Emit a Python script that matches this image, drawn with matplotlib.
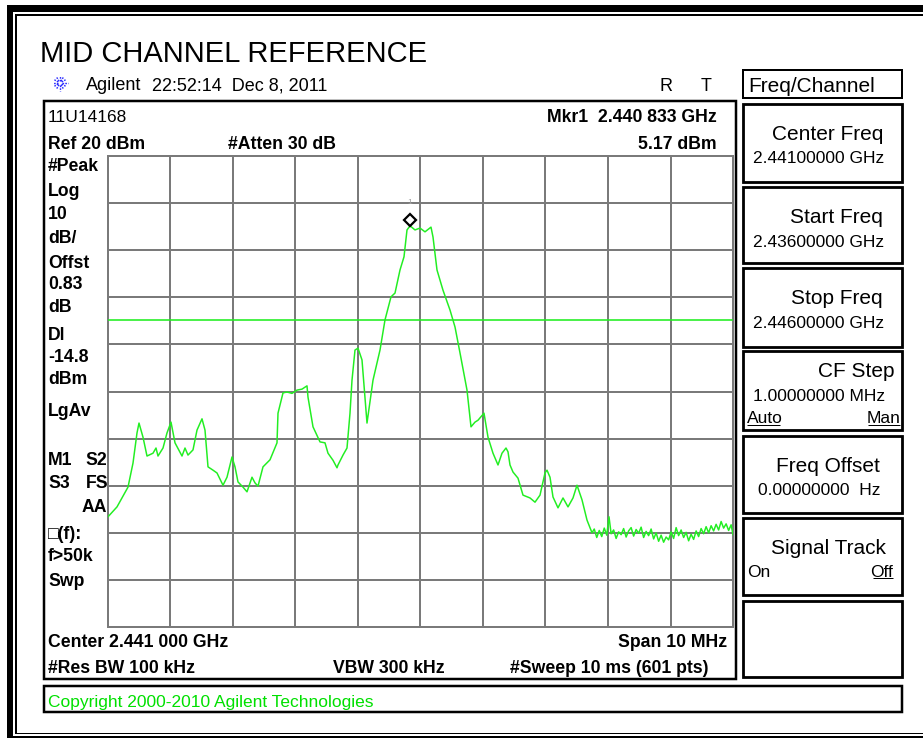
import numpy as np
import matplotlib
matplotlib.use("Agg")
import matplotlib.pyplot as plt
from matplotlib.patches import Rectangle
import matplotlib.transforms as mtransforms

plt.rcParams['font.family'] = ['Liberation Sans', 'DejaVu Sans']

# ---------------- data ----------------
start_ghz = 2.436
stop_ghz = 2.446
ref_level = 20.0
db_per_div = 10.0
display_line = -14.8
marker_freq_mhz = 4.833   # offset from start -> 2.440 833 GHz
marker_level = 5.17

# trace: frequency offset from start (MHz) and level (dBm)
sig_f = [0.0, 0.144, 0.32, 0.40, 0.464, 0.496, 0.56, 0.624, 0.72, 0.768, 0.80, 0.88,
         0.944, 1.008, 1.072, 1.184, 1.232, 1.28, 1.36, 1.424, 1.504, 1.552, 1.60,
         1.68, 1.744, 1.84, 1.904, 1.984, 2.032, 2.08, 2.16, 2.224, 2.304, 2.352,
         2.40, 2.48, 2.592, 2.704, 2.72, 2.80, 2.864, 2.944, 3.024, 3.104, 3.184,
         3.20, 3.28, 3.392, 3.472, 3.52, 3.60, 3.664, 3.68, 3.76, 3.824, 3.872,
         3.904, 3.952, 4.0, 4.064, 4.144, 4.24, 4.352, 4.432, 4.528, 4.592, 4.672,
         4.736, 4.784, 4.833, 4.912, 4.992, 5.072, 5.168, 5.20, 5.264, 5.36, 5.472,
         5.552, 5.632, 5.744, 5.808, 5.872, 5.92, 6.016, 6.08, 6.16, 6.24, 6.304,
         6.368, 6.40, 6.432, 6.48, 6.56, 6.64, 6.752, 6.832, 6.912, 6.992, 7.024,
         7.072, 7.12, 7.2, 7.28, 7.36, 7.44, 7.504, 7.584, 7.664, 7.744]
sig_db = [-56.6, -54.5, -50.3, -45.2, -38.8, -36.7, -39.7, -43.7, -43.1, -42.0, -43.7,
          -42.0, -38.8, -36.5, -40.9, -43.7, -42.0, -43.5, -42.4, -38.2, -35.8, -38.2,
          -46.0, -46.7, -47.3, -49.9, -48.2, -43.9, -46.0, -49.2, -50.3, -51.3, -48.2,
          -49.4, -50.1, -46.0, -44.5, -40.9, -34.6, -30.3, -30.1, -30.4, -29.7, -29.5,
          -28.8, -31.2, -37.5, -40.7, -40.9, -43.1, -44.6, -46.2, -45.6, -43.5, -42.0,
          -34.6, -27.6, -21.2, -20.8, -23.3, -36.7, -27.6, -21.2, -14.8, -9.9, -9.1,
          -4.2, -1.4, 4.3, 5.17, 4.3, 4.7, 3.9, 4.9, 2.8, -4.2, -8.5, -12.7, -16.3,
          -21.8, -29.7, -37.5, -36.5, -36.1, -34.6, -39.7, -43.1, -45.6, -43.1, -42.0,
          -42.8, -45.6, -47.1, -48.4, -52.0, -52.6, -53.5, -52.0, -47.3, -46.7, -48.2,
          -52.4, -54.7, -52.6, -54.5, -52.6, -49.9, -53.0, -57.3, -60.0]
floor_f = [7.78, 7.82, 7.86, 7.90, 7.94, 7.98, 8.016, 8.05, 8.09, 8.13, 8.17, 8.21,
           8.25, 8.29, 8.33, 8.37, 8.41, 8.45, 8.49, 8.53, 8.57, 8.61, 8.65, 8.69,
           8.73, 8.77, 8.81, 8.85, 8.89, 8.93, 8.97, 9.01, 9.05, 9.09, 9.13, 9.17,
           9.21, 9.25, 9.29, 9.33, 9.37, 9.41, 9.45, 9.49, 9.53, 9.57, 9.61, 9.65,
           9.69, 9.73, 9.77, 9.81, 9.85, 9.89, 9.93, 9.97, 10.0]
floor_db = [-59.2, -61.0, -59.5, -60.8, -59.0, -60.5, -56.6, -60.2, -59.4, -61.2, -59.8,
            -60.4, -59.1, -60.9, -59.6, -58.9, -60.7, -59.3, -60.1, -58.8, -61.0, -59.7,
            -60.6, -59.2, -61.3, -60.0, -61.8, -60.5, -62.0, -60.9, -61.5, -59.8, -61.2,
            -58.9, -60.6, -59.4, -61.0, -59.9, -61.7, -60.3, -61.4, -59.6, -60.8, -59.1,
            -60.2, -58.7, -60.0, -58.5, -59.6, -58.2, -59.4, -57.6, -59.0, -58.1, -59.5,
            -58.3, -60.4]

trace_f = np.array(sig_f + floor_f)
trace_db = np.array(sig_db + floor_db)
trace_ghz = start_ghz + trace_f / 1000.0

# ---------------- figure ----------------
W, H = 923, 738
fig = plt.figure(figsize=(W / 100, H / 100), dpi=100)
bg = fig.add_axes([0, 0, 1, 1])
bg.set_xlim(0, W)
bg.set_ylim(H, 0)
bg.axis('off')

PX = 0.72  # px -> pt


def line(x0, y0, x1, y1, lw, color='black'):
    bg.plot([x0, x1], [y0, y1], color=color, lw=lw * PX, solid_capstyle='butt')


def bar(x0, y0, x1, y1, color='black'):
    bg.add_patch(Rectangle((x0, y0), x1 - x0, y1 - y0, facecolor=color,
                           edgecolor='none', lw=0))


def box(x0, y0, x1, y1, lw, color='black'):
    bg.add_patch(Rectangle((x0, y0), x1 - x0, y1 - y0, fill=False,
                           edgecolor=color, lw=lw * PX, joinstyle='miter'))


# outer frame
bar(7, 5, 13, H)          # thick left
bar(7, 5, W, 12)          # thick top
bar(7, 735.5, W, H)       # thick bottom
bar(14.5, 14, 16.5, 734)  # thin left
bar(14.5, 14, W, 16)      # thin top
bar(14.5, 732.5, W, 734)  # thin bottom

# display box
box(43.5, 100.5, 736, 679, 2.5)
# softkey panel
box(743, 70, 902, 98, 2)
for (a, b) in [(104, 182), (187, 263), (268, 347), (351, 430), (436, 513), (518, 595), (601, 677)]:
    box(743, a, 902, b, 2.8)
# copyright box
box(44, 686, 902, 712, 2.5)


def txt(x, yc, s, size, ha='left', bold=False, color='black'):
    # yc = visual centre of capitals in pixels
    cap = size / PX * 0.716
    bg.text(x, yc + cap / 2, s, fontsize=size, ha=ha, va='baseline',
            fontweight='bold' if bold else 'normal', color=color)


# title and header
txt(40, 52, "MID CHANNEL REFERENCE", 21)
txt(86, 84, "Agilent", 13)
txt(152, 84, "22:52:14  Dec 8, 2011", 13)
txt(666, 85, "R", 13, ha='center')
txt(706, 85, "T", 13, ha='center')
txt(748, 85, "Freq/Channel", 15)

# Agilent spark logo
cx, cy = 60, 83
for ang in np.arange(0, 360, 30):
    r = np.deg2rad(ang)
    bg.plot([cx + 2.0 * np.cos(r), cx + 7.5 * np.cos(r)],
            [cy + 2.0 * np.sin(r), cy + 7.5 * np.sin(r)],
            color='#2a2aff', lw=1.0, ls=(0, (1.2, 0.8)))

# display annotations
B = 12.7
txt(48, 116, "11U14168", 12.5)
txt(717, 116, "Mkr1  2.440 833 GHz", B, ha='right', bold=True)
txt(48, 143, "Ref 20 dBm", B, bold=True)
txt(228, 143, "#Atten 30 dB", B, bold=True)
txt(717, 143, "5.17 dBm", B, ha='right', bold=True)

left_labels = [("#Peak", 165), ("Log", 190), ("10", 213), ("dB/", 237), ("Offst", 262),
               ("0.83", 283), ("dB", 306), ("Dl", 334), ("-14.8", 356), ("dBm", 378),
               ("LgAv", 410), ("M1", 459), ("S3", 482), ("\u25a1(f):", 533),
               ("f>50k", 555), ("Swp", 580)]
for s, y in left_labels:
    txt(48, y, s, B, bold=True)
txt(85, 459, "S2", B, bold=True)
txt(86, 482, "FS", B, bold=True)
txt(107, 506, "AA", B, ha='right', bold=True)

txt(48, 641, "Center 2.441 000 GHz", B, bold=True)
txt(727, 641, "Span 10 MHz", B, ha='right', bold=True)
txt(48, 667, "#Res BW 100 kHz", B, bold=True)
txt(333, 667, "VBW 300 kHz", B, bold=True)
txt(510, 667, "#Sweep 10 ms (601 pts)", B, bold=True)

# softkeys
K, V = 15, 12.5
txt(883, 133, "Center Freq", K, ha='right')
txt(884, 157, "2.44100000 GHz", V, ha='right')
txt(883, 216, "Start Freq", K, ha='right')
txt(884, 241, "2.43600000 GHz", V, ha='right')
txt(883, 297, "Stop Freq", K, ha='right')
txt(884, 322, "2.44600000 GHz", V, ha='right')
txt(895, 370, "CF Step", K, ha='right')
txt(885, 395, "1.00000000 MHz", V, ha='right')
txt(747, 417, "Auto", V)
txt(900, 417, "Man", V, ha='right')
line(747, 424.5, 780, 424.5, 1)
line(868, 424.5, 900, 424.5, 1)
txt(880, 465, "Freq Offset", K, ha='right')
txt(880, 489, "0.00000000  Hz", V, ha='right')
txt(886, 547, "Signal Track", K, ha='right')
txt(747, 571, "On", V)
txt(893, 571, "Off", V, ha='right')
line(873, 578, 893, 578, 1)

txt(48, 701, "Copyright 2000-2010 Agilent Technologies", 12.5, color='#00e000')

# ---------------- graticule / trace ----------------
gx0, gx1, gy0, gy1 = 108, 733, 156, 627
ax = fig.add_axes([gx0 / W, 1 - gy1 / H, (gx1 - gx0) / W, (gy1 - gy0) / H])
ax.set_xlim(start_ghz, stop_ghz)
ax.set_ylim(ref_level - 10 * db_per_div, ref_level)
ax.set_xticks(np.linspace(start_ghz, stop_ghz, 11))
ax.set_yticks(np.arange(ref_level - 10 * db_per_div, ref_level + 1, db_per_div))
ax.tick_params(length=0, labelbottom=False, labelleft=False)
ax.grid(True, color='#7a7a7a', lw=2 * PX)
for sp in ax.spines.values():
    sp.set_color('#7a7a7a')
    sp.set_linewidth(2 * PX)
ax.set_facecolor('white')

ax.axhline(display_line, color='#22ee22', lw=1.6 * PX, zorder=3)
ax.plot(trace_ghz, trace_db, color='#22ee22', lw=1.5 * PX, zorder=4)

mk = start_ghz + marker_freq_mhz / 1000.0
off = mtransforms.offset_copy(ax.transData, fig=fig, x=0, y=6, units='dots')
ax.plot([mk], [marker_level], marker='D', ms=6.5, mfc='white', mec='black',
        mew=1.6, transform=off, zorder=5, clip_on=False)
off2 = mtransforms.offset_copy(ax.transData, fig=fig, x=0, y=23, units='dots')
ax.text(mk, marker_level, "1", transform=off2, fontsize=6, color='#a0a0a0',
        ha='center', va='center', zorder=5)

fig.savefig("out.png", dpi=100)
